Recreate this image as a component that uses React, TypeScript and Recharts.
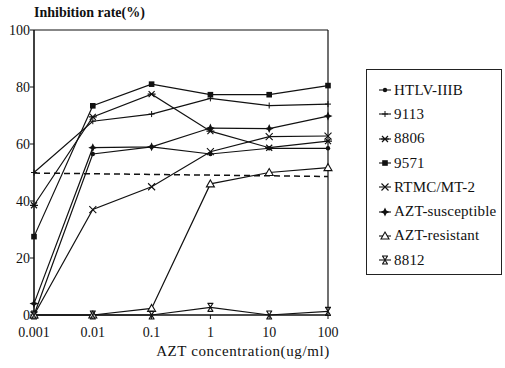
import React from "react";
import { LineChart, Line, XAxis, YAxis, ReferenceLine, Legend } from "recharts";

const CONC = ["0.001", "0.01", "0.1", "1", "10", "100"];
const HTLV_IIIB = [0, 56.5, 59, 56.5, 58.5, 58.5];
const S9113 = [50, 68, 70.5, 76, 73.5, 74];
const S8806 = [38.5, 69.5, 77.5, 64.5, 58.7, 61];
const S9571 = [27.5, 73.4, 81, 77.3, 77.3, 80.5];
const RTMC = [0, 37, 45, 57.3, 62.6, 62.8];
const AZT_S = [4, 58.7, 59, 65.6, 65.4, 69.8];
const AZT_R = [0, 0, 2.3, 46, 50, 51.7];
const S8812 = [0, 0, 0, 2.7, 0, 1.3];
const REF50 = [49.8, null, null, null, null, 48.6];
const Y_TICKS = [0, 20, 40, 60, 80, 100];

const SERIES = [
  { key: "htlv", name: "HTLV-IIIB", values: HTLV_IIIB, marker: "dot" },
  { key: "s9113", name: "9113", values: S9113, marker: "plus" },
  { key: "s8806", name: "8806", values: S8806, marker: "asterisk" },
  { key: "s9571", name: "9571", values: S9571, marker: "square" },
  { key: "rtmc", name: "RTMC/MT-2", values: RTMC, marker: "cross" },
  { key: "azts", name: "AZT-susceptible", values: AZT_S, marker: "star" },
  { key: "aztr", name: "AZT-resistant", values: AZT_R, marker: "triangle" },
  { key: "s8812", name: "8812", values: S8812, marker: "hourglass" },
];

const data = CONC.map((c, i) => {
  const row: any = { conc: c, ref: REF50[i] };
  SERIES.forEach((s) => (row[s.key] = s.values[i]));
  return row;
});

const FONT = "Liberation Serif, DejaVu Serif, serif";
const INK = "#111";

function Marker({ type, cx, cy }: { type: string; cx: number; cy: number }) {
  const t = `translate(${cx},${cy})`;
  switch (type) {
    case "dot":
      return <circle cx={cx} cy={cy} r={2.2} fill={INK} />;
    case "plus":
      return <path transform={t} d="M-3,0H3M0,-3V3" stroke={INK} strokeWidth={1} fill="none" />;
    case "asterisk":
      return <path transform={t} d="M-4,0H4M-3,-3L3,3M-3,3L3,-3" stroke={INK} strokeWidth={1.2} fill="none" />;
    case "square":
      return <rect x={cx - 2.8} y={cy - 2.8} width={5.6} height={5.6} fill={INK} />;
    case "cross":
      return <path transform={t} d="M-3.5,-3.5L3.5,3.5M-3.5,3.5L3.5,-3.5" stroke={INK} strokeWidth={1.1} fill="none" />;
    case "star":
      return <path transform={t} d="M0,-4.5L1.4,-1.4L4.5,0L1.4,1.4L0,4.5L-1.4,1.4L-4.5,0L-1.4,-1.4Z" fill={INK} />;
    case "triangle":
      return <path transform={t} d="M0,-4L4,3H-4Z" fill="#fff" stroke={INK} strokeWidth={1.1} />;
    case "hourglass":
      return <path transform={t} d="M-3,-4H3M-3,4H3M-2.5,-4L2.5,4M2.5,-4L-2.5,4" stroke={INK} strokeWidth={1.2} fill="none" />;
    default:
      return null;
  }
}

const makeDot = (type: string, key: string) => (props: any) => {
  const { cx, cy, index } = props;
  if (cx == null || cy == null || props.value == null) return <g key={`${key}-${index}`} />;
  return (
    <g key={`${key}-${index}`}>
      <Marker type={type} cx={cx} cy={cy} />
    </g>
  );
};

function LegendBox() {
  return (
    <div
      style={{
        border: "1px solid #222",
        width: 136,
        height: 206,
        boxSizing: "border-box",
        paddingTop: 8,
        fontFamily: FONT,
        fontSize: 15,
        letterSpacing: 0.2,
        color: INK,
        background: "#fff",
      }}
    >
      {SERIES.map((s) => (
        <div key={s.key} style={{ display: "flex", alignItems: "center", height: 24.3 }}>
          <svg width={26} height={12} style={{ marginLeft: 9, flex: "none" }}>
            <line x1={3} y1={6} x2={15} y2={6} stroke={INK} strokeWidth={1.1} />
            <Marker type={s.marker} cx={9} cy={6} />
          </svg>
          <span style={{ marginLeft: -8, whiteSpace: "nowrap" }}>{s.name}</span>
        </div>
      ))}
    </div>
  );
}

export default function App() {
  return (
    <div style={{ position: "absolute", left: 0, top: 0, background: "#fff", fontFamily: FONT }}>
      <LineChart width={505} height={368} data={data} margin={{ top: 30, right: 177, left: 0, bottom: 0 }}>
        <XAxis
          dataKey="conc"
          type="category"
          padding={{ left: 0, right: 0 }}
          height={53}
          interval={0}
          tick={{ fontFamily: FONT, fontSize: 14, fill: INK }}
          tickSize={4}
          tickMargin={8}
          tickLine={{ stroke: INK }}
          axisLine={{ stroke: INK, strokeWidth: 1.3 }}
          label={{
            content: () => (
              <text
                x={243}
                y={356}
                textAnchor="middle"
                fontFamily={FONT}
                fontSize={15}
                letterSpacing={0.6}
                fill={INK}
              >
                AZT concentration(ug/ml)
              </text>
            ),
          }}
        />
        <YAxis
          domain={[0, 100]}
          ticks={Y_TICKS}
          width={34}
          interval={0}
          tick={{ fontFamily: FONT, fontSize: 14, fill: INK }}
          tickSize={4}
          tickMargin={0}
          tickLine={{ stroke: INK }}
          axisLine={{ stroke: INK, strokeWidth: 1.6 }}
          label={{
            content: () => (
              <text x={34} y={17} fontFamily={FONT} fontSize={14} fontWeight="bold" fill={INK}>
                Inhibition rate(%)
              </text>
            ),
          }}
        />
        <ReferenceLine y={100} stroke={INK} strokeWidth={1.2} />
        <ReferenceLine x="100" stroke={INK} strokeWidth={1.2} />
        <Legend
          layout="horizontal"
          verticalAlign="middle"
          align="center"
          wrapperStyle={{ left: 366, top: 69, width: 136, height: 206 }}
          content={() => <LegendBox />}
        />
        <Line
          dataKey="ref"
          name="ref"
          legendType="none"
          stroke={INK}
          strokeWidth={1.5}
          strokeDasharray="6 4"
          dot={false}
          connectNulls
          isAnimationActive={false}
        />
        {SERIES.map((s) => (
          <Line
            key={s.key}
            dataKey={s.key}
            name={s.name}
            stroke={INK}
            strokeWidth={1.2}
            dot={makeDot(s.marker, s.key)}
            activeDot={false}
            isAnimationActive={false}
          />
        ))}
      </LineChart>
    </div>
  );
}
